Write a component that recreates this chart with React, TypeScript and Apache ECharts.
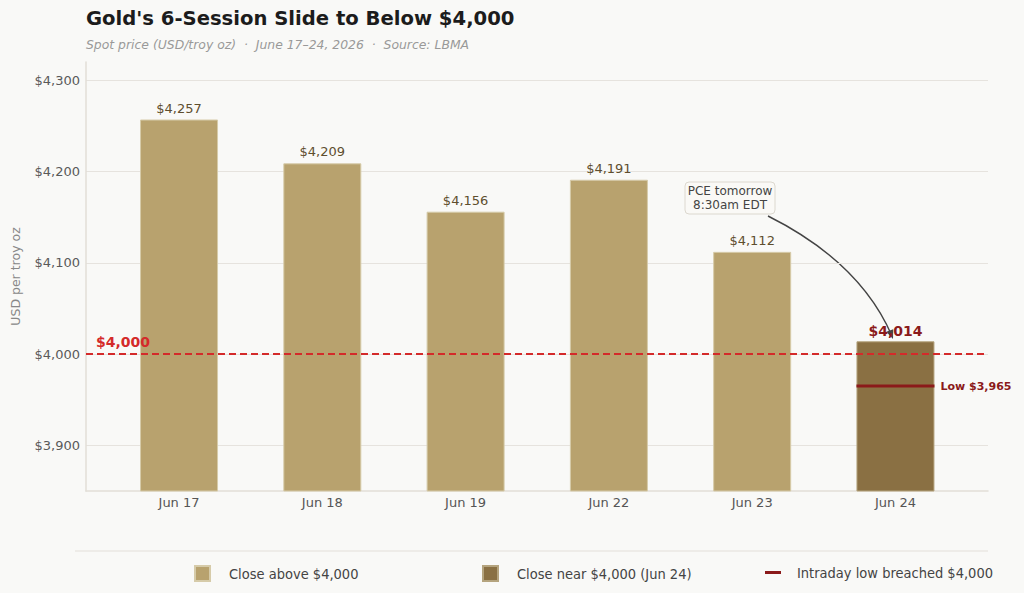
import React, { useEffect, useRef } from "react";
import * as echarts from "echarts";

// Session dates and closing spot prices (USD/troy oz)
const sessions = ["Jun 17", "Jun 18", "Jun 19", "Jun 22", "Jun 23", "Jun 24"];
const closeAbove = [4257, 4209, 4156, 4191, 4112, null];
const closeNear = [null, null, null, null, null, 4014];
const intradayLow = [[5, 3965]];
const threshold = 4000;
const yTicks = [3900, 4000, 4100, 4200, 4300];

const BAR_LIGHT = "#b8a26e";
const BAR_DARK = "#8a7043";
const LOW_RED = "#8b1a1a";
const LINE_RED = "#d42a2a";
const BAR_WIDTH = 78;
const FONT = "'DejaVu Sans', 'Noto Sans', sans-serif";
const FONT_NARROW = "'DejaVu Sans Condensed', 'Liberation Sans Narrow', 'DejaVu Sans', sans-serif";

const fmtUsd = (v: number) => "$" + v.toLocaleString("en-US");

export default function App() {
  const ref = useRef<HTMLDivElement>(null);

  useEffect(() => {
    document.body.style.margin = "0";
    if (!ref.current) return;
    const chart = echarts.init(ref.current, null, { renderer: "svg" });

    const yMin = 3850;
    const yMax = 4320;

    const option: any = {
      animation: false,
      backgroundColor: "#f9f9f7",
      textStyle: { fontFamily: FONT },
      title: [
        {
          text: "Gold's 6-Session Slide to Below $4,000",
          left: 86,
          top: 8,
          padding: 0,
          textStyle: { fontSize: 19.6, fontWeight: "bold", color: "#1c1c1c", fontFamily: FONT },
        },
        {
          text: "Spot price (USD/troy oz)  ·  June 17–24, 2026  ·  Source: LBMA",
          left: 86,
          top: 38,
          padding: 0,
          textStyle: { fontSize: 12.4, fontStyle: "italic", fontWeight: "normal", color: "#999", fontFamily: FONT },
        },
      ],
      grid: [
        // frame grid: gridlines, y axis, baseline
        { left: 86, right: 36, top: 62, bottom: 102 },
        // bar grid: category bands
        { left: 107.4, right: 56.9, top: 62, bottom: 102 },
      ],
      xAxis: [
        {
          type: "value",
          gridIndex: 0,
          min: 0,
          max: 1,
          axisLabel: { show: false },
          axisTick: { show: false },
          splitLine: { show: false },
          axisLine: { show: true, lineStyle: { color: "#e2ded7", width: 1.5 } },
        },
        {
          type: "category",
          gridIndex: 1,
          data: sessions,
          axisLine: { show: false },
          axisTick: { show: false },
          axisLabel: { color: "#555", fontSize: 13, margin: 5, fontFamily: FONT },
        },
      ],
      yAxis: [
        {
          type: "value",
          gridIndex: 0,
          min: yMin,
          max: yMax,
          interval: 50,
          name: "USD per troy oz",
          nameLocation: "middle",
          nameGap: 64,
          nameTextStyle: { color: "#888", fontSize: 12.5, fontFamily: FONT },
          axisLine: { show: true, lineStyle: { color: "#e2ded7", width: 1.5 } },
          axisTick: { show: false },
          axisLabel: {
            color: "#5a5a5a",
            fontSize: 13,
            margin: 6,
            fontFamily: FONT,
            formatter: (v: number) => (yTicks.includes(v) ? fmtUsd(v) : ""),
          },
          splitLine: {
            show: true,
            lineStyle: { color: ["transparent", "#e6e3de"], width: 1 },
          },
        },
        {
          type: "value",
          gridIndex: 1,
          min: yMin,
          max: yMax,
          show: false,
          splitLine: { show: false },
        },
      ],
      legend: [
        {
          data: ["Close above $4,000"],
          left: 194,
          top: 565,
          padding: 0,
          itemWidth: 15,
          itemHeight: 15,
          icon: "rect",
          textStyle: { color: "#444", fontSize: 14.5, fontFamily: FONT_NARROW, padding: [0, 0, 0, 14] },
        },
        {
          data: ["Close near $4,000 (Jun 24)"],
          left: 482,
          top: 565,
          padding: 0,
          itemWidth: 15,
          itemHeight: 15,
          icon: "rect",
          textStyle: { color: "#444", fontSize: 14.5, fontFamily: FONT_NARROW, padding: [0, 0, 0, 14] },
        },
        {
          data: [{ name: "Intraday low breached $4,000", icon: "rect", itemStyle: { color: LOW_RED } }],
          left: 765,
          top: 565,
          padding: 0,
          itemWidth: 16,
          itemHeight: 3,
          textStyle: { color: "#444", fontSize: 14.5, fontFamily: FONT_NARROW, padding: [0, 0, 0, 11] },
        },
      ],
      series: [
        {
          // $4,000 threshold across the full frame
          type: "line",
          xAxisIndex: 0,
          yAxisIndex: 0,
          data: [],
          silent: true,
          markLine: {
            silent: true,
            symbol: "none",
            lineStyle: { color: LINE_RED, type: [7, 4], width: 1.8 },
            label: {
              show: true,
              position: "insideStartTop",
              formatter: fmtUsd(threshold),
              color: LINE_RED,
              fontWeight: "bold",
              fontSize: 14,
              fontFamily: FONT,
              distance: [10, 5],
            },
            data: [{ yAxis: threshold }],
          },
        },
        {
          name: "Close above $4,000",
          type: "bar",
          xAxisIndex: 1,
          yAxisIndex: 1,
          data: closeAbove.map((v) => (v == null ? "-" : v)),
          barWidth: BAR_WIDTH,
          barGap: "-100%",
          itemStyle: { color: BAR_LIGHT, borderColor: "#d6cba9", borderWidth: 1 },
          label: {
            show: true,
            position: "top",
            distance: 5,
            color: "#5e4e2e",
            fontSize: 13,
            fontFamily: FONT,
            formatter: (p: any) => fmtUsd(p.value),
          },
          z: 3,
        },
        {
          name: "Close near $4,000 (Jun 24)",
          type: "bar",
          xAxisIndex: 1,
          yAxisIndex: 1,
          data: closeNear.map((v) => (v == null ? "-" : v)),
          barWidth: BAR_WIDTH,
          barGap: "-100%",
          itemStyle: { color: BAR_DARK, borderColor: "#b5a47e", borderWidth: 1 },
          label: {
            show: true,
            position: "top",
            distance: 3,
            color: LOW_RED,
            fontSize: 14,
            fontWeight: "bold",
            fontFamily: FONT,
            formatter: (p: any) => fmtUsd(p.value),
          },
          z: 3,
        },
        {
          name: "Intraday low breached $4,000",
          type: "custom",
          xAxisIndex: 1,
          yAxisIndex: 1,
          data: intradayLow,
          itemStyle: { color: LOW_RED },
          z: 5,
          renderItem: (params: any, api: any) => {
            const v = api.value(1);
            const p = api.coord([api.value(0), v]);
            const half = BAR_WIDTH / 2;
            return {
              type: "group",
              children: [
                {
                  type: "line",
                  shape: { x1: p[0] - half, y1: p[1], x2: p[0] + half, y2: p[1] },
                  style: { stroke: LOW_RED, lineWidth: 3 },
                },
                {
                  type: "text",
                  style: {
                    x: p[0] + half + 6,
                    y: p[1],
                    text: "Low " + fmtUsd(v),
                    fill: LOW_RED,
                    font: `bold 11px ${FONT}`,
                    align: "left",
                    verticalAlign: "middle",
                  },
                },
              ],
            };
          },
        },
      ],
      graphic: [
        {
          type: "line",
          shape: { x1: 75, y1: 551, x2: 988, y2: 551 },
          style: { stroke: "#e3e0da", lineWidth: 1.2 },
        },
        {
          type: "rect",
          shape: { x: 685, y: 182, width: 90, height: 32, r: 4 },
          style: { fill: "#faf9f6", stroke: "#dcd8cf", lineWidth: 1 },
        },
        {
          type: "text",
          x: 730,
          y: 198,
          style: {
            text: "PCE tomorrow\n8:30am EDT",
            fill: "#444",
            font: `12px ${FONT}`,
            align: "center",
            verticalAlign: "middle",
            lineHeight: 14,
          },
        },
        {
          type: "bezierCurve",
          shape: { x1: 768, y1: 216, x2: 892, y2: 336, cpx1: 860, cpy1: 262 },
          style: { stroke: "#444", lineWidth: 1.4, fill: "none" },
        },
        {
          type: "polygon",
          shape: { points: [[893, 339], [886.3, 331.8], [893.2, 329.2]] },
          style: { fill: "#444" },
        },
      ],
    };

    chart.setOption(option);
    return () => chart.dispose();
  }, []);

  return <div ref={ref} style={{ width: 1024, height: 593 }} />;
}
